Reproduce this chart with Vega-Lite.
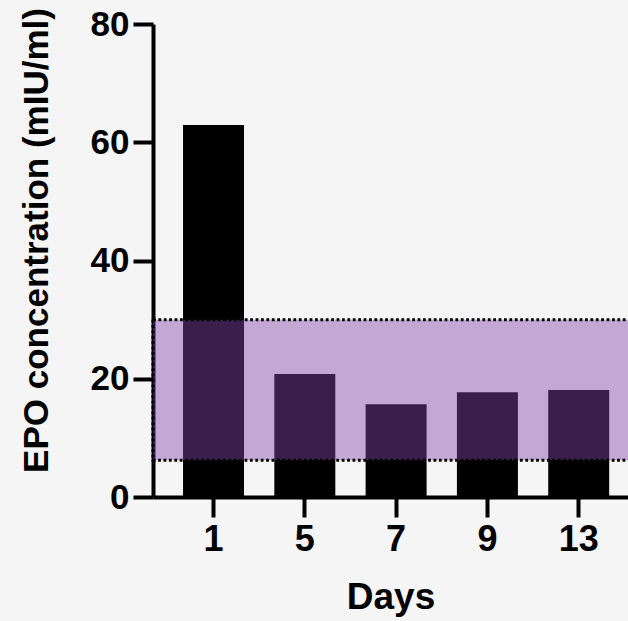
{
  "$schema": "https://vega.github.io/schema/vega-lite/v6.json",
  "width": 475,
  "height": 473,
  "autosize": "none",
  "padding": {"left": 153, "top": 24, "right": 0, "bottom": 124},
  "background": "#f5f5f5",
  "config": {
    "view": {"stroke": null},
    "font": "Liberation Sans",
    "axis": {
      "labelFont": "Liberation Sans",
      "titleFont": "Liberation Sans",
      "labelFontWeight": "bold",
      "titleFontWeight": "bold",
      "labelColor": "#000",
      "titleColor": "#000",
      "domainColor": "#000",
      "tickColor": "#000",
      "domainWidth": 4,
      "tickWidth": 4,
      "tickSize": 20,
      "grid": false
    }
  },
  "datasets": {
    "bars": [
      {"day": "1", "epo": 62.9},
      {"day": "5", "epo": 20.8},
      {"day": "7", "epo": 15.7},
      {"day": "9", "epo": 17.7},
      {"day": "13", "epo": 18.1}
    ],
    "range": [
      {"low": 6.2, "high": 30}
    ]
  },
  "layer": [
    {
      "data": {"name": "bars"},
      "mark": {"type": "bar", "color": "#000"},
      "encoding": {
        "x": {
          "field": "day",
          "type": "ordinal",
          "sort": ["1", "5", "7", "9", "13"],
          "scale": {"paddingInner": 0.332, "paddingOuter": 0.2675, "align": 0.615},
          "axis": {
            "title": "Days",
            "labelAngle": 0,
            "labelFontSize": 36,
            "labelPadding": 5,
            "titleFontSize": 37,
            "titlePadding": 22
          }
        },
        "y": {
          "field": "epo",
          "type": "quantitative",
          "scale": {"domain": [0, 80], "nice": false},
          "axis": {
            "title": "EPO concentration (mIU/ml)",
            "values": [0, 20, 40, 60, 80],
            "labelFontSize": 35,
            "labelPadding": 4,
            "titleFontSize": 35,
            "titlePadding": 36,
            "titleY": 216
          }
        }
      }
    },
    {
      "data": {"name": "range"},
      "mark": {
        "type": "rect",
        "fill": "#8547ae",
        "fillOpacity": 0.44,
        "stroke": "#000",
        "strokeWidth": 3,
        "strokeDash": [2.8, 2.6],
        "xOffset": 4
      },
      "encoding": {
        "y": {"field": "low", "type": "quantitative"},
        "y2": {"field": "high"}
      }
    }
  ]
}
